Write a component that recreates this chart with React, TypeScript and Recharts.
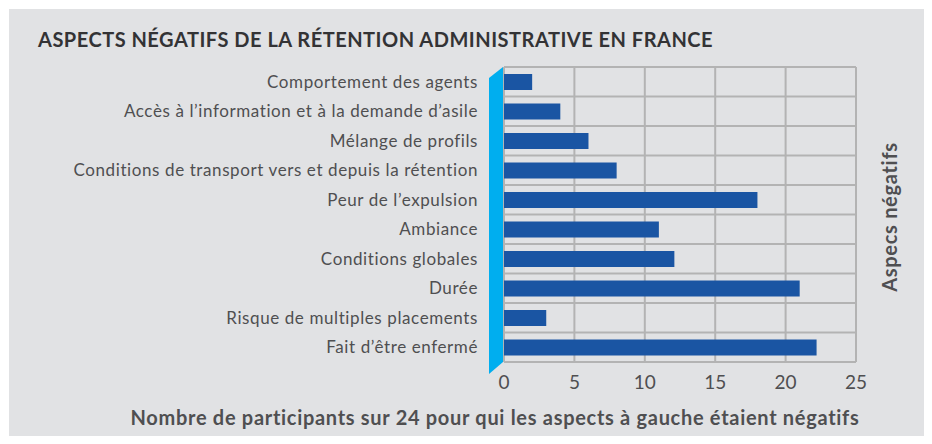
import React from "react";
import { BarChart, Bar, XAxis, YAxis, CartesianGrid } from "recharts";

const categories = [
  "Comportement des agents",
  "Accès à l’information et à la demande d’asile",
  "Mélange de profils",
  "Conditions de transport vers et depuis la rétention",
  "Peur de l’expulsion",
  "Ambiance",
  "Conditions globales",
  "Durée",
  "Risque de multiples placements",
  "Fait d’être enfermé",
];
const values = [2, 4, 6, 8, 18, 11, 12.1, 21, 3, 22.2];
const xTicks = [0, 5, 10, 15, 20, 25];

const title = "ASPECTS NÉGATIFS DE LA RÉTENTION ADMINISTRATIVE EN FRANCE";
const xLabel = "Nombre de participants sur 24 pour qui les aspects à gauche étaient négatifs";
const rightLabel = "Aspecs négatifs";

const data = categories.map((name, i) => ({ name, value: values[i] }));

const W = 932;
const H = 444;
const M = { top: 67, right: 76, bottom: 52, left: 9 };
const Y_W = 495;
const X_H = 30;
const plotLeft = M.left + Y_W;
const plotTop = M.top;
const plotBottom = H - M.bottom - X_H;
const WALL = 14;
const FONT = "Lato, 'Noto Sans', sans-serif";
const TXT = "#4f4f51";

export default function App() {
  return (
    <div style={{ position: "relative", margin: -8, width: W, height: H, overflow: "hidden" }}>
      <div style={{ position: "absolute", left: 9, top: 9, width: W - 9, height: H - 9, background: "#e1e2e4" }} />
      <div style={{ position: "absolute", left: 0, top: 0 }}>
        <BarChart width={W} height={H} data={data} layout="vertical" margin={M}>
          <CartesianGrid
            stroke="#b3b3b3"
            strokeWidth={2}
            horizontalCoordinatesGenerator={({ offset }: any) =>
              Array.from({ length: categories.length + 1 }, (_, i) => offset.top + (i * offset.height) / categories.length)
            }
          />
          <XAxis
            type="number"
            domain={[0, 25]}
            ticks={xTicks}
            height={X_H}
            axisLine={false}
            tickLine={false}
            tickSize={0}
            tickMargin={14}
            tick={{ fill: TXT, fontSize: 19, fontFamily: FONT }}
          />
          <YAxis
            type="category"
            dataKey="name"
            width={Y_W}
            axisLine={false}
            tickLine={false}
            tickSize={0}
            tickMargin={26}
            interval={0}
            tick={{ fill: TXT, fontSize: 17, fontFamily: FONT, letterSpacing: 0.6 }}
          />
          <Bar dataKey="value" fill="#1a55a3" barSize={16} isAnimationActive={false} />
        </BarChart>
      </div>
      <svg width={W} height={H} style={{ position: "absolute", left: 0, top: 0, pointerEvents: "none" }}>
        <polygon
          points={`${plotLeft - WALL - 1},${plotTop + 11} ${plotLeft - 1},${plotTop} ${plotLeft - 1},${plotBottom} ${plotLeft - WALL - 1},${plotBottom + 12}`}
          fill="#00aeef"
        />
        <text x={38} y={47} fill="#333335" fontFamily={FONT} fontWeight={700} fontSize={20} letterSpacing={0.5}>
          {title}
        </text>
        <text x={495} y={425} textAnchor="middle" fill={TXT} fontFamily={FONT} fontWeight={700} fontSize={20} letterSpacing={0.7}>
          {xLabel}
        </text>
        <text
          x={0}
          y={0}
          transform="translate(897,217) rotate(-90)"
          textAnchor="middle"
          fill={TXT}
          fontFamily={FONT}
          fontWeight={700}
          fontSize={20}
          letterSpacing={0.7}
        >
          {rightLabel}
        </text>
      </svg>
    </div>
  );
}
